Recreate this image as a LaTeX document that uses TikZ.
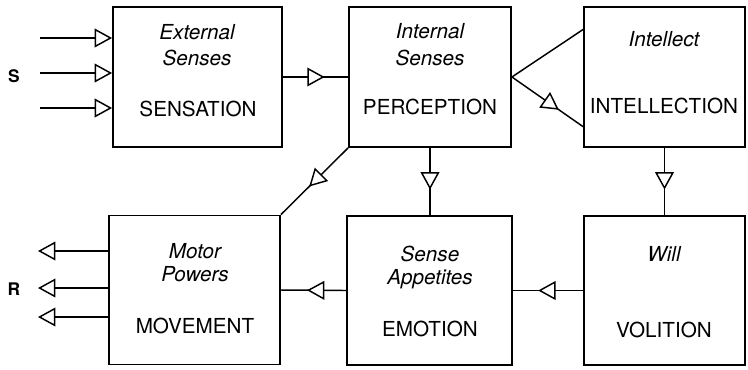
\documentclass[tikz,border=0pt]{standalone}
\usepackage{fontspec}
\setmainfont{TeX Gyre Heros}
\usetikzlibrary{arrows.meta,decorations.markings,calc}

\tikzset{
  blk/.style={draw, line width=1.4pt, inner sep=0pt},
  tag/.style={anchor=base, inner sep=0.75pt, font=\fontsize{15.5}{18}\selectfont},
  tagi/.style={tag, font=\fontsize{15.5}{18}\selectfont\itshape},
  io/.style={anchor=center, inner sep=0.75pt, font=\fontsize{13}{15}\selectfont\bfseries},
  wire/.style={line width=1.1pt},
  tri/.style={-{Triangle[open,length=13pt,width=14pt,line width=1.1pt]}},
  midtri/.style={postaction={decorate}, decoration={markings, mark=at position #1 with {\arrow{Triangle[fill=white,length=13pt,width=14pt,line width=1.1pt]}}}}
}

\begin{document}
\begin{tikzpicture}[x=0.75pt,y=0.75pt,yscale=-1,xscale=1]
\useasboundingbox (0,0) rectangle (748,369);

% Blocks
\node[blk, minimum width=126.75pt, minimum height=105pt] (sens) at (197.5,77) {};
\node[blk, minimum width=121.5pt, minimum height=105pt] (perc) at (430,77) {};
\node[blk, minimum width=120.75pt, minimum height=105pt] (intel) at (664.5,77) {};
\node[blk, minimum width=128.25pt, minimum height=111.75pt] (motor) at (194.5,290) {};
\node[blk, minimum width=123.75pt, minimum height=111.75pt] (appet) at (429.5,290.5) {};
\node[blk, minimum width=120.75pt, minimum height=111.75pt] (will) at (664.5,290.5) {};

% Text Node
\node[tagi] (sensA) at (197,39) {External};
\node[tagi] (sensB) at (197,65) {Senses};
\node[tag] (sensC) at (198,116) {SENSATION};
\node[tagi] (percA) at (430,38) {Internal};
\node[tagi] (percB) at (430,65) {Senses};
\node[tag] (percC) at (430,114) {PERCEPTION};
\node[tagi] (intelA) at (664,46) {Intellect};
\node[tag] (intelC) at (664,113) {INTELLECTION};
\node[tagi] (motorA) at (195,258) {Motor};
\node[tagi] (motorB) at (195,281) {Powers};
\node[tag] (motorC) at (195,333) {MOVEMENT};
\node[tagi] (appetA) at (430,261) {Sense};
\node[tagi] (appetB) at (430,284) {Appetites};
\node[tag] (appetC) at (430,336) {EMOTION};
\node[tagi] (willA) at (664,261) {Will};
\node[tag] (willC) at (664,337) {VOLITION};

\node[io] (S) at (14,76) {S};
\node[io] (R) at (14,289) {R};

% Inputs and outputs
\coordinate (s1) at (40,38);
\coordinate (s2) at (40,73);
\coordinate (s3) at (40,108);
\coordinate (r1) at (38,251);
\coordinate (r2) at (38,288);
\coordinate (r3) at (38,317);
\foreach \p in {s1,s2,s3}
  \draw[wire, tri] (\p) -- (\p -| sens.west);
\foreach \p in {r1,r2,r3}
  \draw[wire, tri] (\p -| motor.west) -- (\p);

% Connectors
\draw[wire, midtri=0.64] (sens.east) -- (perc.west);
\draw[wire] (perc.east) -- ($(intel.north west)!0.165!(intel.south west)$);
\draw[wire, midtri=0.66] (perc.east) -- ($(intel.north west)!0.85!(intel.south west)$);
\draw[wire, midtri=0.62] (perc.south) -- (perc.south |- appet.north);
\draw[wire, midtri=0.62] (intel.south) -- (intel.south |- will.north);
\draw[wire, midtri=0.58] (perc.south west) -- (motor.north east);
\draw[wire, midtri=0.64] (will.west) -- (appet.east);
\draw[wire, midtri=0.60] (appet.west) -- (motor.east);

\end{tikzpicture}
\end{document}
